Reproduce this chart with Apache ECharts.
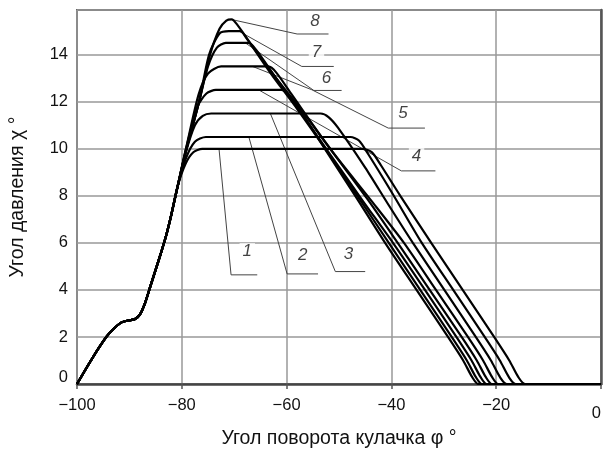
<!DOCTYPE html>
<html>
<head>
<meta charset="utf-8">
<script src="https://cdn.jsdelivr.net/npm/echarts@6.0.0/dist/echarts.min.js"></script>
<style>
  html, body { margin: 0; padding: 0; background: #fff; }
  #chart { width: 604px; height: 455px; }
</style>
</head>
<body>
<div id="chart"></div>
<script>
// общий подъём всех кривых
var rise = [[-100,0],[-96.9,1.16],[-94.4,2.0],[-93.1,2.33],[-91.5,2.62],[-90.2,2.7],[-89,2.75],
    [-88,2.95],[-87,3.45],[-86,4.15],[-85,4.85],[-84,5.55],[-83,6.3],[-82,7.2],[-80.8,8.4]];

// кривые 1..8 после точки схождения
var c1 = [[-79.3,9.35],[-77.8,9.85],[-76.1,10],[-45.5,10],[-43.7,9.85],[-42,9.3],[-38.3,8.0],[-32.4,6],
    [-26.4,4],[-20.4,2],[-17.5,1],[-15.8,0.3],[-14.5,0],[0,0]];
var c2 = [[-79.2,9.6],[-77.5,10.3],[-75.4,10.5],[-47.8,10.5],[-46.2,10.35],[-44.5,9.8],[-39.8,8.1],[-34.2,6],
    [-28.2,4],[-22.2,2],[-19.3,1],[-17.6,0.3],[-16.3,0],[0,0]];
var c3 = [[-79.3,9.8],[-77.5,11.0],[-76,11.4],[-74.4,11.5],[-53.5,11.5],[-52,11.35],[-50.2,10.9],[-45,9.2],
    [-40.5,7.6],[-35.9,6],[-29.9,4],[-23.9,2],[-21,1],[-19.3,0.3],[-18,0],[0,0]];
var c4 = [[-79.2,10],[-77,11.8],[-75.3,12.35],[-73.5,12.5],[-61,12.5],[-59.6,12.3],[-57,11.6],[-51,9.8],
    [-43.5,7.7],[-37.6,6],[-31.5,4],[-25.4,2],[-22.5,1],[-20.8,0.3],[-19.6,0],[0,0]];
var c5 = [[-79.2,10],[-76.8,12.3],[-75,13.2],[-72.5,13.5],[-63.5,13.5],[-62,13.25],[-59,12.3],[-53,10.4],
    [-44.7,7.9],[-38.8,6],[-32.7,4],[-26.6,2],[-23.7,1],[-22,0.3],[-20.8,0],[0,0]];
var c6 = [[-79.1,10],[-76.7,12],[-75,13.5],[-73.3,14.3],[-71.6,14.5],[-67.2,14.5],[-65.8,14.2],[-62,13.0],
    [-57.5,11.6],[-51.5,9.7],[-45.5,7.8],[-39.7,6],[-33.6,4],[-27.6,2],[-24.7,1],[-23,0.3],[-21.8,0],[0,0]];
var c7 = [[-79.1,10],[-76.7,12],[-74.8,14],[-72.8,14.9],[-71,15],[-68.8,15],[-67.8,14.75],[-63,13.2],
    [-58,11.7],[-52,9.8],[-46.2,7.9],[-40.5,6],[-34.5,4],[-28.5,2],[-25.6,1],[-23.9,0.3],[-22.7,0],[0,0]];
var c8 = [[-79.1,10],[-76.7,12],[-74.6,14],[-72.8,15.1],[-71.5,15.45],[-70.5,15.5],[-69.5,15.3],[-66,14.2],
    [-62,13.0],[-58.5,12],[-52.7,10],[-46.9,8],[-41.2,6],[-35.2,4],[-29.2,2],[-26.3,1],[-24.6,0.3],[-23.4,0],[0,0]];
var curves = [c1, c2, c3, c4, c5, c6, c7, c8];

// выноски с номерами
var labelNames = ['1','2','3','4','5','6','7','8'];
var labelPos = [[-67.5,5.63],[-56.9,5.49],[-48.2,5.53],[-35.2,9.67],[-37.8,11.5],[-52.4,13.0],[-54.3,14.1],[-54.6,15.42]];
var leaders = [
    [[-72.9,10],[-70.6,4.64],[-65.6,4.64]],
    [[-67.2,10.5],[-59.9,4.68],[-54.0,4.68]],
    [[-63.1,11.5],[-50.7,4.78],[-45.0,4.78]],
    [[-65.3,12.5],[-38.1,9.06],[-31.6,9.06]],
    [[-66.5,13.5],[-55.2,12.51],[-40.6,10.88],[-33.6,10.88]],
    [[-67.8,14.49],[-54.8,12.48],[-49.5,12.48]],
    [[-69.1,15],[-57.1,13.5],[-51.0,13.5]],
    [[-70.6,15.5],[-58.0,14.88],[-52.0,14.88]]
];

function minus(v){ return String(v).replace('-', '\u2212'); }

var chart = echarts.init(document.getElementById('chart'));
var series = [];

leaders.forEach(function(l){
    series.push({
        type: 'line', data: l, symbol: 'none', silent: true, z: 3,
        lineStyle: { color: '#444', width: 1 }
    });
});

curves.forEach(function(c){
    series.push({
        type: 'line', data: rise.concat(c), symbol: 'none', smooth: 0.25, z: 4,
        lineStyle: { color: '#000', width: 2.2 }
    });
});

series.push({
    type: 'scatter', symbolSize: 0, z: 5,
    data: labelPos.map(function(p, i){ return { value: p, name: labelNames[i] }; }),
    label: {
        show: true, position: 'inside', formatter: '{b}',
        fontFamily: 'Liberation Sans', fontStyle: 'italic', fontSize: 17, color: '#111',
        backgroundColor: '#fff', padding: [0, 3]
    }
});

option = {
    animation: false,
    backgroundColor: '#fff',
    grid: {
        left: 77, right: 1, top: 10, bottom: 71,
        show: true, borderColor: '#666', borderWidth: 2
    },
    xAxis: {
        type: 'value', min: -100, max: 0, interval: 20,
        name: 'Угол поворота кулачка φ °', nameLocation: 'middle', nameGap: 45,
        nameTextStyle: { fontFamily: 'Liberation Sans', fontSize: 19.5, color: '#111' },
        axisLine: { show: true, lineStyle: { color: '#444', width: 2.5 } },
        axisTick: { show: true, length: 5, lineStyle: { color: '#555', width: 1.5 } },
        axisLabel: {
            margin: 13, fontFamily: 'Liberation Sans', fontSize: 16.5, color: '#111',
            alignMaxLabel: 'right',
            formatter: function(v){ return v === 0 ? '{e|0}' : minus(v); },
            rich: { e: { fontFamily: 'Liberation Sans', fontSize: 16.5, color: '#111', padding: [8, 0, 0, 0] } }
        },
        splitLine: { show: true, lineStyle: { color: '#999', width: 1.5 } }
    },
    yAxis: {
        type: 'value', min: 0, max: 15.9, interval: 2,
        name: 'Угол давления χ °', nameLocation: 'middle', nameGap: 49,
        nameTextStyle: { fontFamily: 'Liberation Sans', fontSize: 19.5, color: '#111' },
        axisLine: { show: true, lineStyle: { color: '#555', width: 2.5 } },
        axisTick: { show: false },
        axisLabel: {
            margin: 9, fontFamily: 'Liberation Sans', fontSize: 16.5, color: '#111',
            showMaxLabel: false,
            formatter: function(v){ return v === 0 ? '{z|0}' : minus(v); },
            rich: { z: { fontFamily: 'Liberation Sans', fontSize: 16.5, color: '#111', padding: [0, 0, 14, 0] } }
        },
        splitLine: { show: true, lineStyle: { color: '#999', width: 1.5 } }
    },
    series: series
};
chart.setOption(option);
</script>
</body>
</html>
